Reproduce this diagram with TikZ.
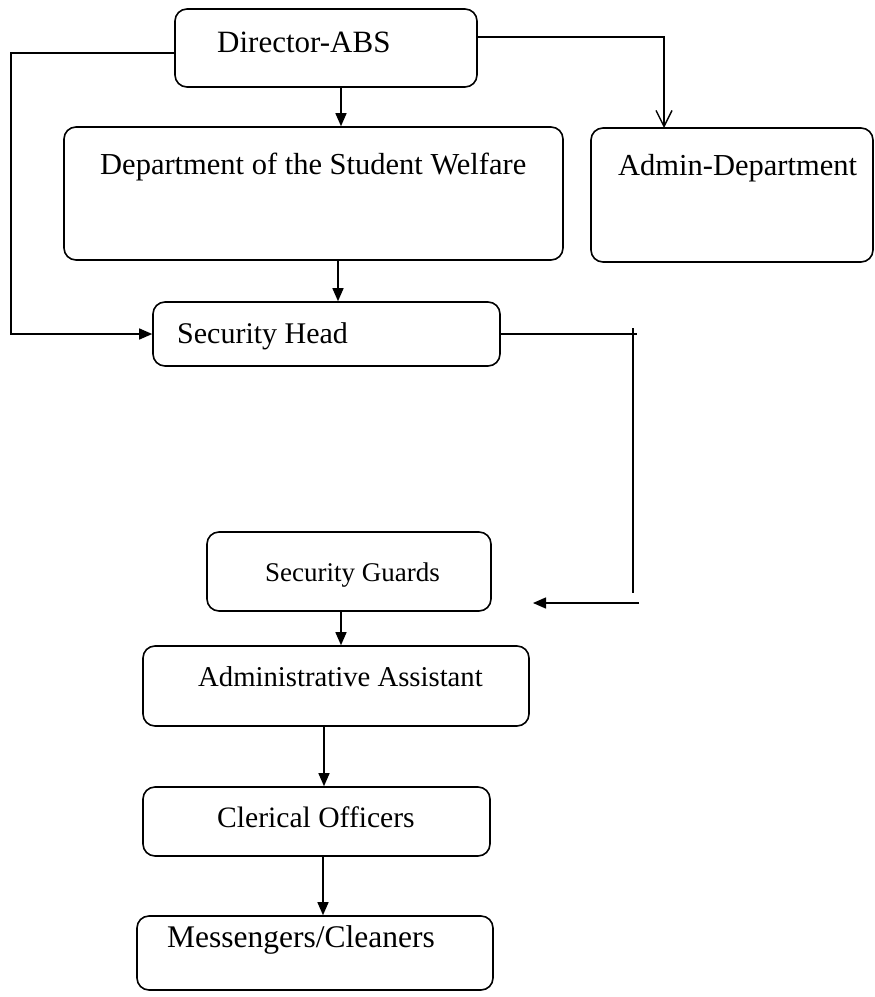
\documentclass[tikz,border=0pt]{standalone}
\usepackage{fontspec}
\setmainfont{Liberation Serif}
\usetikzlibrary{arrows.meta}
\tikzset{
  box/.style={draw, line width=1.6pt, rounded corners=12pt, inner sep=0pt, minimum width=#1},
  lbl/.style={anchor=base west, inner sep=0pt, font=\fontsize{#1}{#1}\selectfont},
  conn/.style={line width=1.4pt},
  arr/.style={conn, -{Triangle[length=13pt,width=11pt]}},
  openarr/.style={conn, -{Straight Barb[length=16pt,width=16pt,line width=1.4pt]}},
}
\begin{document}
\begin{tikzpicture}[x=1pt,y=-1pt]
\useasboundingbox (0,0) rectangle (875,997);
\fill[white] (0,0) rectangle (875,997);

% boxes
\node[box=302pt, minimum height=78pt]  (dir)   at (326,48) {};
\node[box=499pt, minimum height=133pt] (dept)  at (313.5,193.5) {};
\node[box=282pt, minimum height=134pt] (admin) at (732,195) {};
\node[box=347pt, minimum height=64pt]  (sh)    at (326.5,334) {};
\node[box=284pt, minimum height=79pt]  (sg)    at (349,571.5) {};
\node[box=386pt, minimum height=80pt]  (aa)    at (336,686) {};
\node[box=347pt, minimum height=69pt]  (co)    at (316.5,821.5) {};
\node[box=356pt, minimum height=74pt]  (mc)    at (315,953) {};

% texts
\node[lbl=31]   (tdir)   at (217,52)  {Director-ABS};
\node[lbl=30.5] (tdept)  at (100,174) {Department of the Student Welfare};
\node[lbl=30.5] (tadmin) at (618,175) {Admin-Department};
\node[lbl=30]   (tsh)    at (177,343) {Security Head};
\node[lbl=27]   (tsg)    at (265,581) {Security Guards};
\node[lbl=28.7] (taa)    at (198,686) {Administrative Assistant};
\node[lbl=29.6] (tco)    at (217,827) {Clerical Officers};
\node[lbl=31.5] (tmc)    at (167,947) {Messengers/Cleaners};

% helper coordinates
\coordinate (x341) at (341,0);
\coordinate (x338) at (338,0);
\coordinate (x324) at (324,0);
\coordinate (x323) at (323,0);
\coordinate (lc) at (11,53);
\coordinate (ad) at (664,128);
\coordinate (rc) at (637,334);
\coordinate (vt) at (633,328);
\coordinate (vb) at (633,593);
\coordinate (as) at (639,603);
\coordinate (ae) at (533,603);

% connectors
\draw[arr] (dir.south -| x341) -- (dept.north -| x341);
\draw[openarr] ([yshift=11pt]dir.east) -| (ad);
\draw[arr] ([yshift=-5pt]dir.west) -- (lc) |- (sh.west);
\draw[arr] (dept.south -| x338) -- (sh.north -| x338);
\draw[conn] (sh.east) -- (rc);
\draw[conn] (vt) -- (vb);
\draw[arr] (as) -- (ae);
\draw[arr] (sg.south -| x341) -- (aa.north -| x341);
\draw[arr] (aa.south -| x324) -- (co.north -| x324);
\draw[arr] (co.south -| x323) -- (mc.north -| x323);
\end{tikzpicture}
\end{document}
